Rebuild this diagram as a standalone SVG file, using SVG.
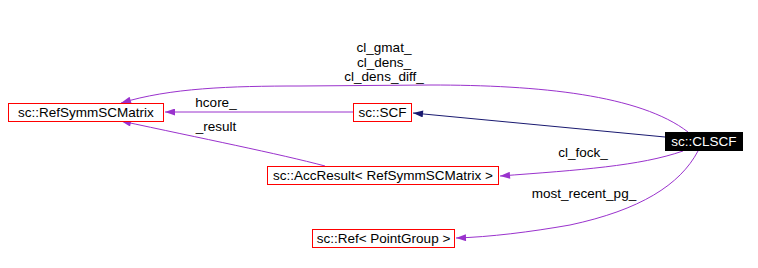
<svg xmlns="http://www.w3.org/2000/svg" width="758" height="268" viewBox="0 0 758 268">
<defs>
<style>
text{font-family:"Liberation Sans",Arial,sans-serif;font-size:13.5px;fill:#000}
.box{fill:#fff;stroke:#ff0000;stroke-width:1}
.mid{text-anchor:middle}
.p{fill:none;stroke:#9a32cd;stroke-width:1}
.n{fill:none;stroke:#191970;stroke-width:1}
</style>
<marker id="ap" viewBox="0 0 10 7" refX="10" refY="3.5" markerUnits="userSpaceOnUse" markerWidth="11" markerHeight="7" orient="auto"><path d="M0,0 L10,3.5 L0,7 z" fill="#9a32cd"/></marker>
<marker id="an" viewBox="0 0 10 7" refX="10" refY="3.5" markerUnits="userSpaceOnUse" markerWidth="11" markerHeight="7" orient="auto"><path d="M0,0 L10,3.5 L0,7 z" fill="#191970"/></marker>
</defs>
<rect width="758" height="268" fill="#fff"/>
<g id="edges">
<path class="n" d="M665,137 L413,113" marker-end="url(#an)"/>
<path class="p" d="M353,112 L165,112" marker-end="url(#ap)"/>
<text x="216" y="107" class="mid">hcore_</text>
<path class="p" d="M688,132 C640,95 540,85 430,85 L300,86 C230,86 170,88 121,103" marker-end="url(#ap)"/>
<text x="384" y="52" class="mid">cl_gmat_</text>
<text x="384" y="67" class="mid">cl_dens_</text>
<text x="384" y="81" class="mid">cl_dens_diff_</text>
<path class="p" d="M325,166 C280,154 200,138 121,121" marker-end="url(#ap)"/>
<text x="216" y="131" class="mid">_result</text>
<path class="p" d="M683,151 C640,166 580,170 500,176" marker-end="url(#ap)"/>
<text x="583" y="157" class="mid">cl_fock_</text>
<path class="p" d="M698,151 C680,185 640,210 570,225 C530,232 490,237 456,238" marker-end="url(#ap)"/>
<text x="584" y="198" class="mid">most_recent_pg_</text>
</g>
<g id="RefSymmSCMatrix"><rect class="box" x="8.5" y="103.5" width="155" height="18"/><text x="86" y="117" class="mid">sc::RefSymmSCMatrix</text></g>
<g id="SCF"><rect class="box" x="353.5" y="103.5" width="58" height="18"/><text x="382.5" y="117" class="mid">sc::SCF</text></g>
<g id="CLSCF"><rect x="665" y="132" width="78" height="19" fill="#000"/><text x="704" y="146" class="mid" style="fill:#fff">sc::CLSCF</text></g>
<g id="AccResult"><rect class="box" x="267.5" y="166.5" width="231" height="18"/><text x="383" y="180" class="mid">sc::AccResult&lt; RefSymmSCMatrix &gt;</text></g>
<g id="RefPointGroup"><rect class="box" x="312.5" y="229.5" width="142" height="18"/><text x="383.5" y="243" class="mid">sc::Ref&lt; PointGroup &gt;</text></g>
</svg>
